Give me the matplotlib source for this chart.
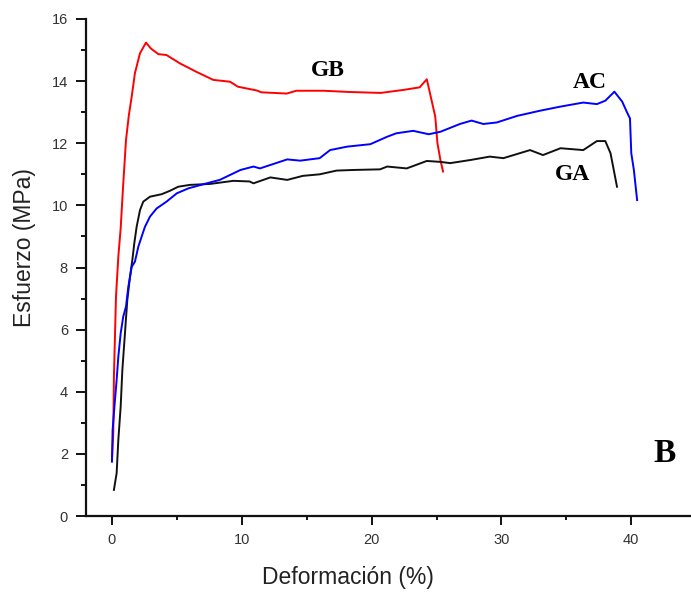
import numpy as np
import matplotlib
matplotlib.use('Agg')
import matplotlib.pyplot as plt
from matplotlib.ticker import MultipleLocator

# %% Stress-strain data (strain %, stress MPa)

gb_strain = [0, 0.1, 0.15, 0.31, 0.49, 0.67, 0.8, 0.87, 1.08, 1.3, 1.52, 1.77, 2.16, 2.62, 3.0,
             3.57, 4.2, 5.24, 6.5, 7.8, 9.1, 9.7, 11.15, 11.5, 13.46, 14.2, 16.3, 18.3, 20.7,
             22.5, 23.7, 24.25, 24.5, 24.9, 25.07, 25.3, 25.5]
gb_stress = [1.8, 2.67, 4.48, 7.06, 8.35, 9.26, 10.2, 10.7, 12.1, 12.9, 13.5, 14.26, 14.9, 15.24, 15.05,
             14.87, 14.84, 14.57, 14.3, 14.04, 13.98, 13.82, 13.7, 13.64, 13.6, 13.69, 13.69, 13.65, 13.62,
             13.72, 13.8, 14.06, 13.6, 12.86, 12.0, 11.46, 11.09]

ac_strain = [0, 0.05, 0.23, 0.36, 0.49, 0.67, 0.87, 1.08, 1.26, 1.52, 1.77, 2.03, 2.29, 2.54, 2.93,
             3.44, 4.2, 5.0, 5.9, 7.3, 8.3, 8.8, 9.9, 10.9, 11.4, 13.5, 14.5, 16.0, 16.8, 18.1, 19.9,
             21.2, 21.9, 23.2, 24.4, 25.3, 26.8, 27.7, 28.6, 29.65, 31.2, 33.0, 34.55, 36.3, 37.35,
             38.0, 38.7, 39.3, 39.7, 39.9, 40.0, 40.2, 40.45]
ac_stress = [1.75, 2.77, 3.73, 4.38, 5.13, 5.88, 6.42, 6.74, 7.38, 8.02, 8.19, 8.67, 9.0, 9.31, 9.64,
             9.9, 10.12, 10.39, 10.55, 10.71, 10.82, 10.92, 11.14, 11.25, 11.19, 11.48, 11.44, 11.52, 11.78,
             11.89, 11.97, 12.21, 12.32, 12.40, 12.29, 12.37, 12.62, 12.73, 12.62, 12.67, 12.88, 13.05,
             13.18, 13.31, 13.26, 13.37, 13.66, 13.34, 12.97, 12.8, 11.68, 11.14, 10.17]

ga_strain = [0.15, 0.36, 0.49, 0.67, 0.8, 1.0, 1.18, 1.39, 1.57, 1.72, 1.9, 2.16, 2.41, 2.93, 3.83,
             4.47, 5.1, 6.0, 7.55, 9.35, 10.6, 10.9, 12.2, 13.5, 14.7, 16.0, 17.3, 18.6, 20.65, 21.2,
             22.7, 24.25, 25.3, 26.05, 27.6, 29.1, 30.15, 32.2, 33.2, 34.55, 36.3, 37.35, 38.0, 38.4,
             38.6, 38.9]
ga_stress = [0.84, 1.38, 2.45, 3.52, 4.7, 5.88, 6.95, 7.7, 8.24, 8.78, 9.31, 9.85, 10.12, 10.28, 10.36,
             10.47, 10.6, 10.66, 10.69, 10.79, 10.77, 10.71, 10.9, 10.82, 10.95, 11.0, 11.12, 11.14, 11.16,
             11.25, 11.19, 11.43, 11.4, 11.36, 11.46, 11.57, 11.52, 11.78, 11.62, 11.84, 11.78, 12.07,
             12.07, 11.68, 11.25, 10.6]

# %% Plot

fig = plt.figure(figsize=(6.91, 5.95), dpi=100)
ax = fig.add_axes([86 / 691, 1 - 516 / 595, (691 - 86) / 691, 497 / 595])

ax.plot(gb_strain, gb_stress, color='#ff0000', lw=1.4)
ax.plot(ga_strain, ga_stress, color='#111111', lw=1.4)
ax.plot(ac_strain, ac_stress, color='#0000ff', lw=1.4)

ax.set_xlim(-2, 44.6)
ax.set_ylim(0, 16)

for s in ['top', 'right']:
    ax.spines[s].set_visible(False)
for s in ['left', 'bottom']:
    ax.spines[s].set_linewidth(1.6)
    ax.spines[s].set_color('#111111')

ax.xaxis.set_major_locator(MultipleLocator(10))
ax.xaxis.set_minor_locator(MultipleLocator(5))
ax.yaxis.set_major_locator(MultipleLocator(2))
ax.yaxis.set_minor_locator(MultipleLocator(1))
ax.tick_params(axis='y', which='major', direction='out', length=7, width=1.4, pad=6, color='#111111',
               labelsize=10.5, labelcolor='#333333')
ax.tick_params(axis='y', which='minor', direction='out', length=3.5, width=1.4, color='#111111')
ax.tick_params(axis='x', which='major', direction='out', length=6.5, width=1.4, pad=6, color='#111111',
               labelsize=10.5, labelcolor='#333333')
ax.tick_params(axis='x', which='minor', direction='out', length=3, width=1.4, color='#111111')
for lab in ax.get_xticklabels() + ax.get_yticklabels():
    lab.set_family('Liberation Sans')

# axis titles, centred on fixed spots
ax.set_xlabel('Deformación (%)', fontsize=16.5, family='Liberation Sans', color='#222222', va='center')
ax.xaxis.set_label_coords(0.433, -0.123)
ax.set_ylabel('Esfuerzo (MPa)', fontsize=16.5, family='Liberation Sans', color='#222222', va='center')
ax.yaxis.set_label_coords(-0.102, 0.54)

lbl = dict(family='Liberation Serif', fontweight='bold', fontsize=17, ha='center', va='center')
ax.text(16.6, 14.33, 'GB', **lbl)
ax.text(36.8, 13.97, 'AC', **lbl)
ax.text(35.5, 11.01, 'GA', **lbl)
ax.text(42.6, 2.0, 'B', family='Liberation Serif', fontweight='bold', fontsize=24,
        ha='center', va='center')

fig.savefig('out.png', dpi=100, facecolor='white')
